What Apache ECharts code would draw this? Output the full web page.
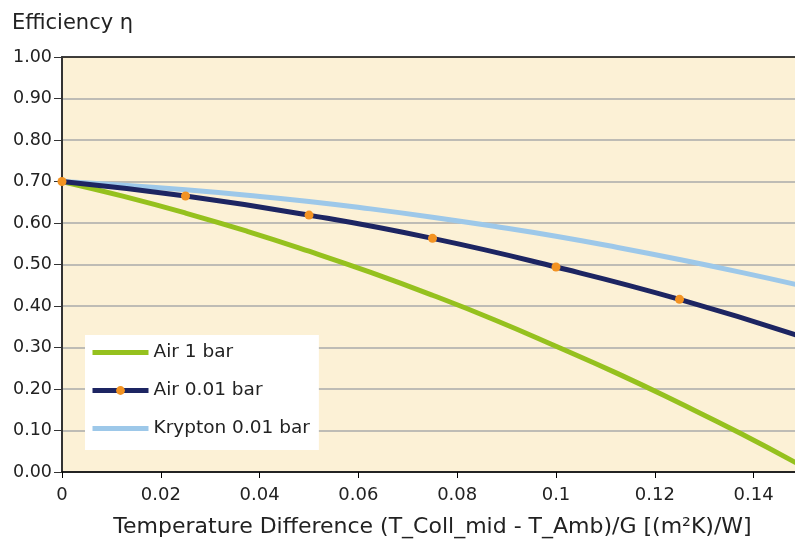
<!DOCTYPE html>
<html>
<head>
<meta charset="utf-8">
<script src="https://cdn.jsdelivr.net/npm/echarts@6/dist/echarts.min.js"></script>
<style>
  html, body { margin: 0; padding: 0; background: #fff; }
  #chart { width: 795px; height: 539px; }
</style>
</head>
<body>
<div id="chart"></div>
<script>
// temperature difference (x) sampling
var xFine = [0, 0.0125, 0.025, 0.0375, 0.05, 0.0625, 0.075, 0.0875, 0.1, 0.1125, 0.125, 0.1375, 0.15];
var xMarked = [0, 0.025, 0.05, 0.075, 0.1, 0.125, 0.15];

// efficiency values
var air1bar = [0.700, 0.664, 0.624, 0.580, 0.532, 0.481, 0.426, 0.367, 0.303, 0.237, 0.166, 0.092, 0.013];
var air001bar = [0.700, 0.665, 0.619, 0.563, 0.494, 0.416, 0.325];
var krypton001bar = [0.700, 0.691, 0.680, 0.667, 0.652, 0.634, 0.614, 0.592, 0.568, 0.541, 0.512, 0.481, 0.448];

var seriesNames = ['Air 1 bar', 'Air 0.01 bar', 'Krypton 0.01 bar'];

function pairs(xs, ys) {
  return xs.map(function (x, i) { return [x, ys[i]]; });
}

var font = 'DejaVu Sans';
var chart = echarts.init(document.getElementById('chart'));
chart.setOption({
  animation: false,
  textStyle: { fontFamily: font, color: '#222' },
  title: {
    text: 'Efficiency η',
    left: 7, top: 8,
    textStyle: { fontFamily: font, fontSize: 21, fontWeight: 'normal', color: '#222' }
  },
  grid: {
    left: 62, top: 57, bottom: 67,
    right: -8,   // the plot runs past the right edge of the picture
    outerBoundsMode: 'none',
    show: true,
    backgroundColor: '#FCF1D6',
    borderColor: '#000',
    borderWidth: 1.5
  },
  legend: {
    data: [
      { name: seriesNames[0], itemStyle: { opacity: 0 } },
      { name: seriesNames[1] },
      { name: seriesNames[2], itemStyle: { opacity: 0 } }
    ],
    orient: 'vertical',
    left: 85, top: 335,
    backgroundColor: '#fff',
    padding: [8, 9, 12, 5],
    itemGap: 19,
    itemWidth: 56,
    itemHeight: 11,
    lineStyle: { width: 5 },
    textStyle: { fontFamily: font, fontSize: 18.5, color: '#222' }
  },
  xAxis: {
    type: 'value',
    min: 0, max: 0.15, interval: 0.02,
    name: 'Temperature Difference (T_Coll_mid - T_Amb)/G [(m²K)/W]',
    nameLocation: 'middle',
    nameGap: 44,
    nameTextStyle: { fontFamily: font, fontSize: 22, color: '#222' },
    axisLine: { lineStyle: { color: '#000', width: 1.5 } },
    axisTick: { show: true, length: 6, lineStyle: { color: '#000' } },
    axisLabel: {
      margin: 14, fontSize: 18, color: '#222', showMaxLabel: false,
      formatter: function (v) { return String(+v.toFixed(2)); }
    },
    splitLine: { show: false }
  },
  yAxis: {
    type: 'value',
    min: 0, max: 1, interval: 0.1,
    axisLine: { show: true, lineStyle: { color: '#333', width: 2 } },
    axisTick: { show: true, length: 8, lineStyle: { color: '#333' } },
    axisLabel: {
      margin: 10, fontSize: 17.5, color: '#222',
      formatter: function (v) { return v.toFixed(2); }
    },
    splitLine: { show: true, showMaxLine: false, lineStyle: { color: '#aaa', width: 1.5 } }
  },
  series: [
    {
      name: seriesNames[0],
      type: 'line',
      smooth: true,
      symbol: 'none',
      lineStyle: { color: '#95C11E', width: 5 },
      itemStyle: { color: '#95C11E' },
      data: pairs(xFine, air1bar)
    },
    {
      name: seriesNames[2],
      type: 'line',
      smooth: true,
      symbol: 'none',
      lineStyle: { color: '#9DC8E9', width: 5 },
      itemStyle: { color: '#9DC8E9' },
      data: pairs(xFine, krypton001bar)
    },
    {
      name: seriesNames[1],
      type: 'line',
      smooth: true,
      symbol: 'circle',
      symbolSize: 9,
      lineStyle: { color: '#1D2562', width: 5 },
      itemStyle: { color: '#F39322', borderWidth: 0 },
      data: pairs(xMarked, air001bar)
    }
  ]
});
</script>
</body>
</html>
